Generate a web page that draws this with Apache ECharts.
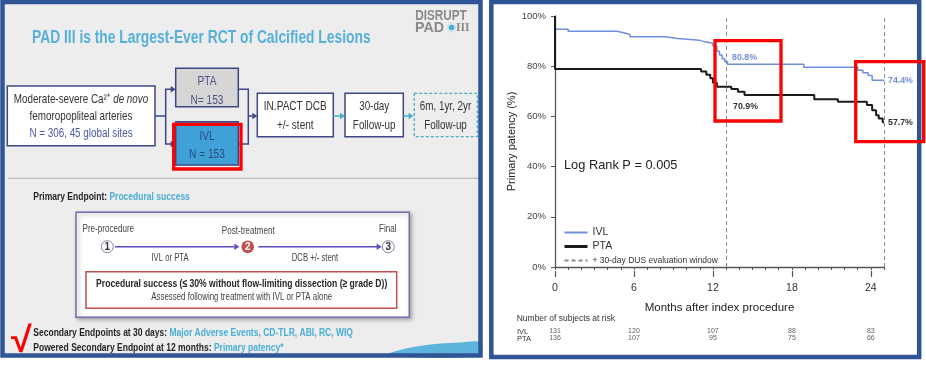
<!DOCTYPE html>
<html><head><meta charset="utf-8">
<script src="https://cdn.jsdelivr.net/npm/echarts@6/dist/echarts.min.js"></script>
<style>html,body{margin:0;padding:0;background:#fff}#c{width:926px;height:371px}</style>
</head><body><div id="c"></div>
<script>
// ---------- data ----------
const ivlCurve = [[0,100],[0,94.7],[1.0,93.9],[4.7,93.2],[5.3,92.6],[5.7,91.7],[8.4,91.0],[9.3,90.3],[11.0,89.7],[11.4,89.1],[12.0,88.0],[12.3,86.0],[12.5,84.5],[12.7,83.0],[12.9,81.8],[13.1,80.8],[18.9,79.6],[23.0,78.4],[23.4,77.4],[23.8,76.3],[24.1,74.4],[25,74.4]];
const ptaCurve = [[0,100],[0,78.9],[11.1,77.9],[11.5,76.6],[11.8,75.2],[12.0,73.4],[12.3,71.8],[13.4,70.9],[13.9,69.8],[14.4,68.5],[19.7,66.8],[21.5,65.8],[23.7,64.5],[24.1,62.5],[24.4,60.5],[24.6,59.2],[24.9,57.7],[25,57.7]];
const windowMonths = [13, 25];
const xTickMonths = [0, 6, 12, 18, 24];
const ivlCallouts = [[13, 80.8], [25, 74.4]];
const ptaCallouts = [[13, 70.9], [25, 57.7]];
const riskMonths = [0, 6, 12, 18, 24];
const ivlAtRisk = [131, 120, 107, 88, 83];
const ptaAtRisk = [136, 107, 95, 75, 66];
const riskRows = ['IVL', 'PTA'];
const seriesNames = ['IVL', 'PTA', '+ 30-day DUS evaluation window'];

// ---------- helpers ----------
const F = 'Liberation Sans, Arial, Helvetica, sans-serif';
function txt(x, y, text, o) {
  o = o || {};
  const st = { text: text, fontSize: o.fs || 12, fontFamily: F, fontWeight: o.fw || 'normal',
    fill: o.fill || '#333', align: o.align || 'center', verticalAlign: 'middle' };
  if (o.rich) st.rich = o.rich;
  return { type: 'text', x: x, y: y, z: o.z || 10, scaleX: (o.sx === undefined ? 0.74 : o.sx), silent: true, style: st };
}
function rc(x, y, w, h, style, z) { return { type: 'rect', shape: { x: x, y: y, width: w, height: h }, style: style, z: z || 5, silent: true }; }
function pl(points, color, lw, dash) { return { type: 'polyline', shape: { points: points }, style: { stroke: color, lineWidth: lw || 1.5, fill: null, lineDash: dash || null }, z: 8, silent: true }; }
function arrowR(x, y, color, len, hw) { len = len || 5; hw = hw || 3.2; return { type: 'polygon', shape: { points: [[x, y], [x - len, y - hw], [x - len, y + hw]] }, style: { fill: color }, z: 9, silent: true }; }
function circ(cx, cy, r, style) { return { type: 'circle', shape: { cx: cx, cy: cy, r: r }, style: style, z: 9, silent: true }; }

const IND = '#3d4785', LB = '#4bacc6', TB = '#4aaed6', PUR = '#5a4fbf', DK = '#262626';

const els = [
  // left panel background
  rc(2.5, 2, 478, 353.5, { fill: '#ededed' }, 1),
  // swoosh
  { type: 'polygon', shape: { points: [[383,356],[400,350],[420,346],[440,343.6],[460,342.5],[480,342.2],[480,356]], smooth: 0.3 }, style: { fill: '#5eb3dc' }, z: 2, silent: true },
  // title
  txt(32, 37.7, 'PAD III is the Largest-Ever RCT of Calcified Lesions', { fs: 18.7, fw: 'bold', fill: '#56b0d8', align: 'left', sx: 0.74 }),
  // logo
  txt(441, 16.5, 'DISRUPT', { fs: 14, fw: 'bold', fill: '#8a8a8a', sx: 0.84 }),
  txt(415, 28, 'PAD', { fs: 14, fw: 'bold', fill: '#8a8a8a', align: 'left', sx: 1.02 }),
  circ(451.5, 27.5, 5, { fill: '#d4e6f0' }),
  circ(451.5, 27.5, 2.8, { fill: '#4aaed6' }),
  { type: 'text', x: 456, y: 28, z: 10, scaleX: 0.9, silent: true, style: { text: 'III', fontSize: 13, fontFamily: 'Liberation Serif, serif', fontWeight: 'bold', fill: '#8a8a8a', align: 'left', verticalAlign: 'middle' } },

  // box 1
  rc(7.3, 86, 147.7, 59.7, { fill: '#fff', stroke: IND, lineWidth: 1.5 }),
  txt(81, 99.3, '{n|Moderate-severe Ca²⁺ }{i|de novo}', { fs: 13.3, rich: {
    n: { fill: '#333', fontSize: 13.3, fontFamily: F }, i: { fill: '#333', fontSize: 13.3, fontFamily: F, fontStyle: 'italic' } } }),
  txt(81, 116, 'femoropopliteal arteries', { fs: 13.3, fill: '#333' }),
  txt(81, 133.3, 'N = 306, 45 global sites', { fs: 13.3, fill: '#4b59a8' }),
  // connectors left
  pl([[155, 116], [165.7, 116]], IND),
  pl([[171, 89.3], [165.7, 89.3], [165.7, 144], [171, 144]], IND),
  arrowR(175.7, 89.3, IND), arrowR(175.7, 144, IND),
  // PTA box
  rc(175.7, 68.3, 62.6, 38.4, { fill: '#d6d6d6', stroke: IND, lineWidth: 1.5 }),
  txt(207, 81.7, 'PTA', { fs: 13.7, fill: '#4b5282' }),
  txt(207, 100, 'N= 153', { fs: 13.7, fill: '#4b5282' }),
  // IVL box
  rc(175.7, 121.7, 62.6, 43.3, { fill: '#3fa1d6', stroke: IND, lineWidth: 1.5 }),
  txt(207, 136.7, 'IVL', { fs: 13.7, fill: '#2b4a80' }),
  txt(207, 154, 'N = 153', { fs: 13.7, fill: '#2b4a80' }),
  // connectors right
  pl([[238.3, 89.3], [248.3, 89.3], [248.3, 144], [238.3, 144]], IND),
  pl([[248.3, 116], [252.5, 116]], IND),
  arrowR(257.3, 116, IND),
  // IN.PACT box
  rc(257.3, 93.3, 76, 43.4, { fill: '#fff', stroke: IND, lineWidth: 1.5 }),
  txt(295.3, 106.7, 'IN.PACT DCB', { fs: 13.6, fill: '#333' }),
  txt(295.3, 125, '+/- stent', { fs: 13.6, fill: '#333' }),
  pl([[333.3, 116], [340.5, 116]], LB),
  arrowR(345, 116, LB),
  // 30-day box
  rc(345, 93.3, 58.3, 43.4, { fill: '#fff', stroke: IND, lineWidth: 1.5 }),
  txt(374.2, 106.7, '30-day', { fs: 13.3, fill: '#333' }),
  txt(374.2, 125, 'Follow-up', { fs: 13.3, fill: '#333' }),
  pl([[403.3, 116], [409, 116]], LB),
  arrowR(413.5, 116, LB),
  // dashed box
  rc(414.3, 93.3, 63, 43.4, { fill: null, stroke: LB, lineWidth: 1.3, lineDash: [3, 2] }),
  txt(445.5, 106.7, '6m, 1yr, 2yr', { fs: 13.3, fill: '#333' }),
  txt(445.5, 125, 'Follow-up', { fs: 13.3, fill: '#333' }),
  // separator
  pl([[8, 178.3], [479, 178.3]], '#b0b0b0', 1),

  // primary endpoint
  txt(33.3, 197.3, '{b|Primary Endpoint: }{c|Procedural success}', { align: 'left', fs: 11.5, rich: {
    b: { fill: DK, fontWeight: 'bold', fontSize: 11.5, fontFamily: F }, c: { fill: TB, fontWeight: 'bold', fontSize: 11.5, fontFamily: F } } }),
  // lower box
  rc(76, 212.3, 333.3, 105, { fill: '#fff', stroke: '#6f6fae', lineWidth: 1.5, shadowBlur: 4, shadowColor: 'rgba(0,0,0,0.3)', shadowOffsetX: 2, shadowOffsetY: 2 }),
  txt(108.3, 229.3, 'Pre-procedure', { fs: 10.9, fill: '#444' }),
  txt(248.3, 230.7, 'Post-treatment', { fs: 10.9, fill: '#444' }),
  txt(387.7, 229.3, 'Final', { fs: 10.9, fill: '#444' }),
  circ(107.3, 246.7, 6, { fill: '#fff', stroke: '#7c8aa0', lineWidth: 1 }),
  txt(107.3, 247, '1', { fs: 10, fw: 'bold', fill: '#333', sx: 1 }),
  circ(247.7, 246.7, 6.3, { fill: '#c0504d' }),
  txt(247.7, 247, '2', { fs: 10, fw: 'bold', fill: '#fff', sx: 1 }),
  circ(388.3, 246.7, 6, { fill: '#fff', stroke: '#7c8aa0', lineWidth: 1 }),
  txt(388.3, 247, '3', { fs: 10, fw: 'bold', fill: '#333', sx: 1 }),
  pl([[115, 246.7], [234.5, 246.7]], PUR),
  arrowR(239.3, 246.7, PUR),
  pl([[258.3, 246.7], [377, 246.7]], PUR),
  arrowR(381.7, 246.7, PUR),
  txt(170, 258.3, 'IVL or PTA', { fs: 10.4, fill: '#444' }),
  txt(315, 258.3, 'DCB +/- stent', { fs: 10.4, fill: '#444' }),
  rc(86, 271.7, 310.7, 36.6, { fill: null, stroke: '#c0504d', lineWidth: 1.5 }),
  txt(241.7, 283.3, 'Procedural success (≤ 30% without flow-limiting dissection (≥ grade D))', { fs: 11.6, fw: 'bold', fill: DK }),
  txt(241.7, 297.3, 'Assessed following treatment with IVL or PTA alone', { fs: 10.7, fill: '#444' }),
  // secondary endpoints
  txt(33.3, 333.3, '{b|Secondary Endpoints at 30 days: }{c|Major Adverse Events, CD-TLR, ABI, RC, WIQ}', { align: 'left', fs: 11.5, rich: {
    b: { fill: DK, fontWeight: 'bold', fontSize: 11.5, fontFamily: F }, c: { fill: TB, fontWeight: 'bold', fontSize: 11.5, fontFamily: F } } }),
  txt(33.3, 348.3, '{b|Powered Secondary Endpoint at 12 months: }{c|Primary patency*}', { align: 'left', fs: 11.5, rich: {
    b: { fill: DK, fontWeight: 'bold', fontSize: 11.5, fontFamily: F }, c: { fill: TB, fontWeight: 'bold', fontSize: 11.5, fontFamily: F } } }),
  // red check
  txt(11, 342, '√', { fs: 36, fw: 'bold', fill: '#ff0000', align: 'left', sx: 1.05, z: 20 }),
  // red box around IVL
  rc(173.7, 124.3, 67.3, 44.7, { fill: null, stroke: '#ff0000', lineWidth: 3.3 }, 20),

  // frames
  rc(2.5, 2, 478, 353.5, { fill: null, stroke: '#2f5597', lineWidth: 4.5 }, 30),
  rc(491.3, 2, 427.9, 355, { fill: null, stroke: '#2f5597', lineWidth: 4.5 }, 30),

  // right chart annotations
  txt(564, 165, 'Log Rank P = 0.005', { fs: 12.8, fill: '#222', align: 'left', sx: 1 }),
  txt(516.7, 318.3, 'Number of subjects at risk', { fs: 8.5, fill: '#333', align: 'left', sx: 1 }),
  rc(715, 40.7, 66, 80.3, { fill: null, stroke: '#ff0000', lineWidth: 3.3 }, 40),
  rc(855.7, 61.7, 68, 80, { fill: null, stroke: '#ff0000', lineWidth: 3.3 }, 40)
];

const axisCol = '#555';
const chart = echarts.init(document.getElementById('c'), null, { renderer: 'canvas' });
chart.setOption({
  animation: false,
  backgroundColor: '#fff',
  textStyle: { fontFamily: F },
  grid: [
    { left: 555, right: 42, top: 16, bottom: 104, containLabel: false, outerBoundsMode: 'none' },
    { left: 555, right: 42, top: 328, height: 14, containLabel: false, outerBoundsMode: 'none' }
  ],
  xAxis: [
    { type: 'value', gridIndex: 0, position: 'bottom', min: 0, max: 25, interval: 1, offset: 4,
      axisLine: { show: true, lineStyle: { color: axisCol, width: 1.3 } },
      axisTick: { show: true, length: 3, lineStyle: { color: axisCol, width: 1 } },
      axisLabel: { show: false }, splitLine: { show: false } },
    { type: 'value', gridIndex: 0, position: 'bottom', min: 0, max: 25, interval: 6, offset: 4,
      axisLine: { show: false },
      axisTick: { show: true, length: 6, customValues: xTickMonths, lineStyle: { color: axisCol, width: 1.2 } },
      axisLabel: { show: true, customValues: xTickMonths, margin: 12, fontSize: 10.5, color: '#333',
        formatter: function (v) { return xTickMonths.indexOf(v) >= 0 ? String(v) : ''; } },
      splitLine: { show: false },
      name: 'Months after index procedure', nameLocation: 'middle', nameGap: 31,
      nameTextStyle: { fontSize: 11.5, color: '#222' } },
    { type: 'value', gridIndex: 1, min: 0, max: 25, show: false }
  ],
  yAxis: [
    { type: 'value', gridIndex: 0, min: 0, max: 100, interval: 20, offset: 3,
      axisLine: { show: true, lineStyle: { color: axisCol, width: 1.3 } },
      axisTick: { show: true, length: 4, lineStyle: { color: axisCol, width: 1 } },
      axisLabel: { formatter: '{value}%', fontSize: 9.5, color: '#444', margin: 6 },
      splitLine: { show: false },
      name: 'Primary patency (%)', nameLocation: 'middle', nameGap: 30,
      nameTextStyle: { fontSize: 11, color: '#222' } },
    { type: 'category', gridIndex: 1, data: riskRows, inverse: true,
      axisLine: { show: false }, axisTick: { show: false }, splitLine: { show: false },
      axisLabel: { interval: 0, align: 'left', margin: 38, fontSize: 7.5, color: '#333' } }
  ],
  legend: {
    show: true, orient: 'vertical', left: 563, top: 226, itemWidth: 23, itemHeight: 10, itemGap: 1,
    selectedMode: false, padding: 0,
    itemStyle: { opacity: 0 },
    textStyle: { fontSize: 10.5, color: '#333', lineHeight: 13 },
    data: [
      { name: seriesNames[0], lineStyle: { width: 2 }, itemStyle: { opacity: 0 } },
      { name: seriesNames[1], lineStyle: { width: 3 }, itemStyle: { opacity: 0 } },
      { name: seriesNames[2], itemStyle: { opacity: 0 }, textStyle: { fontSize: 8.5, color: '#333' } }
    ]
  },
  graphic: { elements: els },
  series: [
    { name: seriesNames[0], type: 'line', xAxisIndex: 0, yAxisIndex: 0, step: 'end', symbol: 'none',
      data: ivlCurve, lineStyle: { color: '#6e8fdc', width: 1.5 }, itemStyle: { color: '#6e8fdc' }, z: 4,
      markPoint: { symbol: 'circle', symbolSize: 0, silent: true, animation: false,
        label: { show: true, position: 'right', fontSize: 8.8, fontWeight: 'bold', color: '#7590d6',
          formatter: function (p) { return p.value.toFixed(1) + '%'; } },
        data: [
          { coord: ivlCallouts[0], value: ivlCallouts[0][1], label: { offset: [1, -7] } },
          { coord: ivlCallouts[1], value: ivlCallouts[1][1], label: { offset: [-1, 0] } }
        ] } },
    { name: seriesNames[1], type: 'line', xAxisIndex: 0, yAxisIndex: 0, step: 'end', symbol: 'none',
      data: ptaCurve, lineStyle: { color: '#1a1a1a', width: 2 }, itemStyle: { color: '#1a1a1a' }, z: 5,
      markPoint: { symbol: 'circle', symbolSize: 0, silent: true, animation: false,
        label: { show: true, position: 'right', fontSize: 8.8, fontWeight: 'bold', color: '#333',
          formatter: function (p) { return p.value.toFixed(1) + '%'; } },
        data: [
          { coord: ptaCallouts[0], value: ptaCallouts[0][1], label: { offset: [2, 18] } },
          { coord: ptaCallouts[1], value: ptaCallouts[1][1], label: { offset: [-1, 0] } }
        ] } },
    { name: seriesNames[2], type: 'line', xAxisIndex: 0, yAxisIndex: 0, symbol: 'none', data: [],
      lineStyle: { color: '#8a8a8a', width: 1, type: [4, 3] }, itemStyle: { color: '#8a8a8a' },
      markLine: { symbol: ['none', 'none'], silent: true, animation: false, label: { show: false },
        lineStyle: { color: '#8a8a8a', width: 1, type: [4, 3] },
        data: windowMonths.map(function (m) { return { xAxis: m }; }) } },
    { name: 'IVL at risk', type: 'scatter', xAxisIndex: 2, yAxisIndex: 1, symbolSize: 1,
      itemStyle: { color: 'rgba(0,0,0,0)' }, silent: true,
      data: riskMonths.map(function (m, i) { return [m, 0, ivlAtRisk[i]]; }),
      label: { show: true, position: 'inside', fontSize: 7, color: '#333', formatter: function (p) { return String(p.value[2]); } } },
    { name: 'PTA at risk', type: 'scatter', xAxisIndex: 2, yAxisIndex: 1, symbolSize: 1,
      itemStyle: { color: 'rgba(0,0,0,0)' }, silent: true,
      data: riskMonths.map(function (m, i) { return [m, 1, ptaAtRisk[i]]; }),
      label: { show: true, position: 'inside', fontSize: 7, color: '#333', formatter: function (p) { return String(p.value[2]); } } }
  ]
});
</script></body></html>
